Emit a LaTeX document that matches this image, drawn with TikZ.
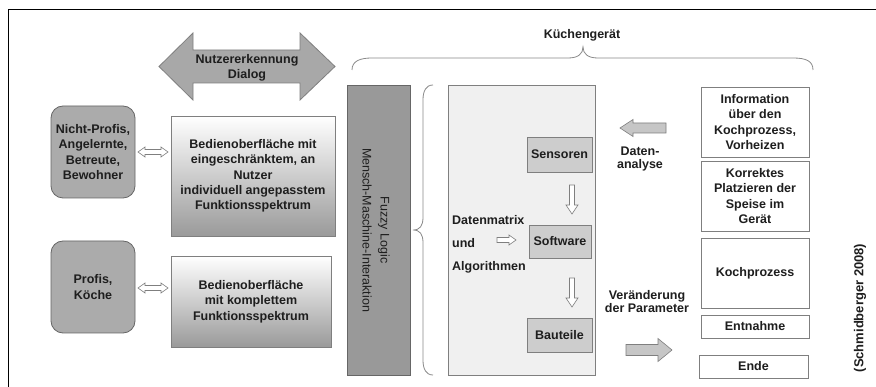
\documentclass[tikz,border=0pt]{standalone}
\usepackage{fontspec}
\setmainfont{Liberation Sans}
\definecolor{txtc}{HTML}{1E1E1E}
\definecolor{edgec}{HTML}{7F7F7F}
\definecolor{darkedge}{HTML}{666666}
\definecolor{roundfill}{HTML}{ABABAB}
\definecolor{barfill}{HTML}{999999}
\definecolor{bigarrow}{HTML}{A8A8A8}
\definecolor{lightbox}{HTML}{F0F0F0}
\definecolor{smallfill}{HTML}{CDCDCD}
\definecolor{gradbot}{HTML}{9A9A9A}
\definecolor{blockfill}{HTML}{C6C6C6}
\definecolor{bracec}{HTML}{8A8A8A}
\begin{document}
\begin{tikzpicture}[x=1pt,y=-1pt,
  lbl/.style={font=\bfseries\fontsize{12.5}{15.3}\selectfont, text=txtc, align=center, inner sep=0pt},
  person/.style={lbl, draw=darkedge, fill=roundfill, rounded corners=12pt, line width=0.8pt},
  gradbox/.style={lbl, draw=edgec, top color=white, bottom color=gradbot, line width=0.8pt},
  smallbox/.style={lbl, draw=edgec, fill=smallfill, line width=0.8pt},
  whitebox/.style={lbl, draw=edgec, fill=white, line width=0.8pt},
  outlinearrow/.style={draw=edgec, fill=white, line width=0.6pt},
  blockarrow/.style={draw=edgec, fill=blockfill, line width=0.6pt},
  dblarrow/.pic={\draw[outlinearrow] (-15,0) -- (-8,-5) -- (-8,-2.5) -- (8,-2.5) -- (8,-5) -- (15,0) -- (8,5) -- (8,2.5) -- (-8,2.5) -- (-8,5) -- cycle;},
  downarrow/.pic={\draw[outlinearrow] (-2.5,0) -- (2.5,0) -- (2.5,20) -- (6,20) -- (0,29) -- (-6,20) -- (-2.5,20) -- cycle;},
  rightarrow/.pic={\draw[outlinearrow] (0,-2.5) -- (12,-2.5) -- (12,-5) -- (19,0) -- (12,5) -- (12,2.5) -- (0,2.5) -- cycle;}
]
\useasboundingbox (0,0) rectangle (876,387);
\fill[white] (0,0) rectangle (876,387);
% frame
\draw[line width=1pt, black] (8,387) -- (8,10) -- (876,10);

% big double arrow
\draw[draw=edgec, fill=bigarrow, line width=0.8pt] (159,66.5) -- (193,33) -- (193,50) -- (300,50) -- (300,33) -- (335,66.5) -- (300,100) -- (300,83) -- (193,83) -- (193,100) -- cycle;
\node[lbl] (dialog) at (247,68) {Nutzererkennung\\Dialog};

% left column
\node[person, minimum width=84pt, minimum height=92pt] (nicht) at (93,152) {Nicht-Profis,\\Angelernte,\\Betreute,\\Bewohner};
\node[person, minimum width=84pt, minimum height=92pt] (profis) at (93,287) {Profis,\\Köche};
\node[gradbox, minimum width=164pt, minimum height=120pt] (bed1) at (253,176) {Bedienoberfläche mit\\eingeschränktem, an\\Nutzer\\individuell angepasstem\\Funktionsspektrum};
\node[gradbox, minimum width=160pt, minimum height=91pt] (bed2) at (251,301.5) {Bedienoberfläche\\mit komplettem\\Funktionsspektrum};
\pic at (153,152) {dblarrow};
\pic at (153,288) {dblarrow};

% fuzzy bar
\node[draw=darkedge, fill=barfill, line width=0.8pt, minimum width=63pt, minimum height=290pt, inner sep=0pt] (fuzzy) at (378.5,230) {};
\node[font=\fontsize{12.5}{18}\selectfont, text=txtc, align=center, rotate=-90, inner sep=0pt] (fuzzytxt) at (376,230) {Fuzzy Logic\\Mensch-Maschine-Interaktion};

% top brace
\draw[bracec, line width=0.8pt] (352,70) .. controls (352,61) and (360,58) .. (372,58) -- (568,58) .. controls (578,58) and (583,54) .. (583,47) .. controls (583,54) and (588,58) .. (598,58) -- (793,58) .. controls (806,58) and (813,61) .. (813,70);
\node[lbl] (kueche) at (582,35) {Küchengerät};

% left brace
\draw[bracec, line width=0.8pt] (433,85) .. controls (426,85) and (423,91) .. (423,100) -- (423,217) .. controls (423,226) and (420,230) .. (413,230) .. controls (420,230) and (423,234) .. (423,243) -- (423,360) .. controls (423,369) and (426,375) .. (433,375);

% device box
\node[draw=edgec, fill=lightbox, line width=0.8pt, minimum width=147pt, minimum height=290pt, inner sep=0pt] (device) at (521.5,230) {};
\node[smallbox, minimum width=65pt, minimum height=35pt] (sens) at (559.5,154.5) {Sensoren};
\node[smallbox, minimum width=62pt, minimum height=33pt] (soft) at (560,241.5) {Software};
\node[smallbox, minimum width=65pt, minimum height=34pt] (baut) at (559.5,335) {Bauteile};
\pic at (572,185) {downarrow};
\pic at (572,278) {downarrow};
\node[lbl, align=left, anchor=north west, font=\bfseries\fontsize{12.5}{23}\selectfont] (datmat) at (452,215) {Datenmatrix\\und\\Algorithmen};
\pic at (497,240) {rightarrow};

% middle arrows and labels
\draw[blockarrow] (620,128) -- (633,119.5) -- (633,123) -- (666,123) -- (666,133) -- (633,133) -- (633,136.5) -- cycle;
\node[lbl, font=\bfseries\fontsize{12.5}{13}\selectfont] (analyse) at (640,159) {Daten-\\analyse};
\node[lbl, font=\bfseries\fontsize{12.5}{13}\selectfont] (param) at (647,302) {Veränderung\\der Parameter};
\draw[blockarrow] (626,344.5) -- (658,344.5) -- (658,338.5) -- (672,350) -- (658,361.5) -- (658,355.5) -- (626,355.5) -- cycle;

% right column
\node[whitebox, minimum width=108pt, minimum height=70pt] (info) at (755,122) {Information\\über den\\Kochprozess,\\Vorheizen};
\node[whitebox, minimum width=108pt, minimum height=70pt] (korr) at (755,196) {Korrektes\\Platzieren der\\Speise im\\Gerät};
\node[whitebox, minimum width=108pt, minimum height=70pt] (koch) at (755,273) {Kochprozess};
\node[whitebox, minimum width=108pt, minimum height=23pt] (entn) at (755,326.5) {Entnahme};
\node[whitebox, minimum width=109pt, minimum height=23pt] (ende) at (753.5,366.5) {Ende};

% source
\node[lbl, rotate=90, font=\bfseries\fontsize{13}{15}\selectfont] (src) at (860,308) {(Schmidberger 2008)};
\end{tikzpicture}
\end{document}
